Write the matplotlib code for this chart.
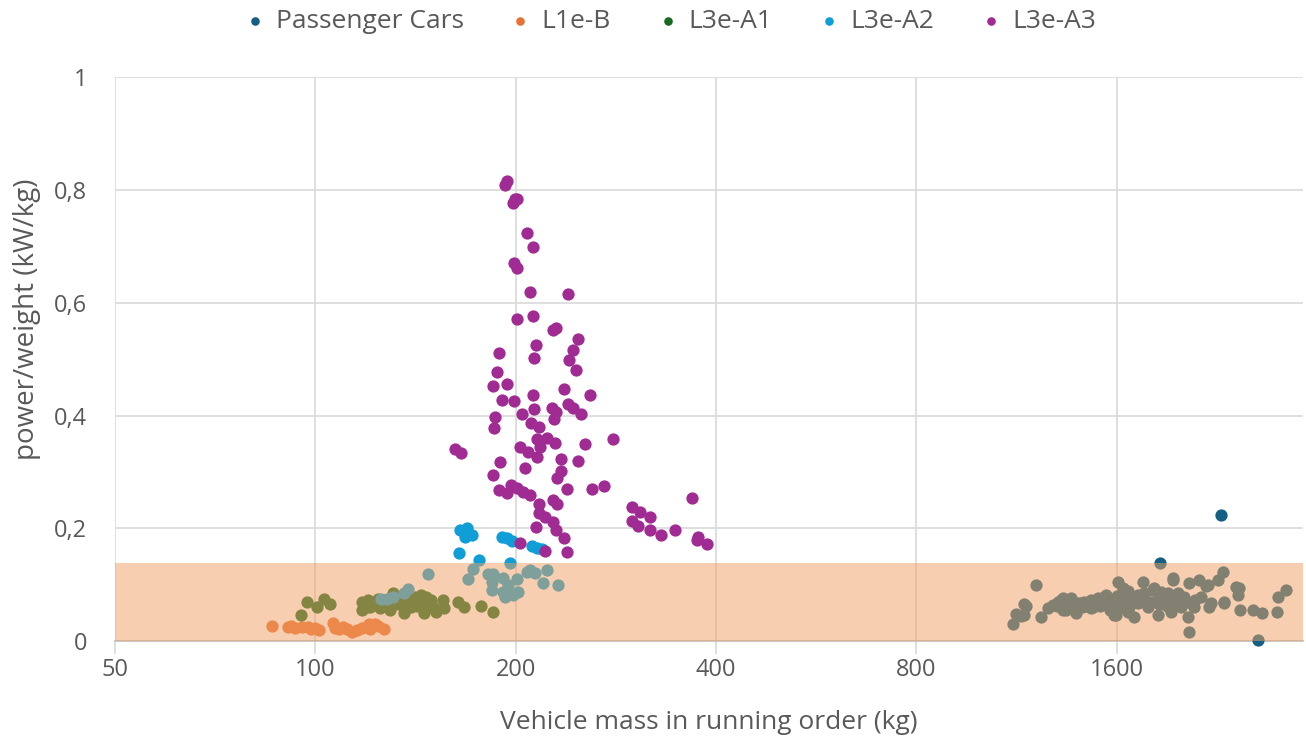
import numpy as np
import matplotlib.pyplot as plt
from matplotlib.ticker import FixedLocator, FuncFormatter

plt.rcParams['font.family'] = ['Open Sans', 'DejaVu Sans']

# vehicle mass (kg) and power-to-weight ratio (kW/kg) per category
cars_mass = [1116, 1128, 1147, 1159, 1159, 1167, 1209, 1229, 1260, 1282, 1300, 1304,
             1318, 1327, 1327, 1341, 1350, 1364, 1388, 1398, 1400, 1412, 1420, 1427,
             1440, 1447, 1462, 1462, 1472, 1480, 1498, 1498, 1510, 1529, 1529, 1540,
             1550, 1560, 1567, 1580, 1584, 1594, 1600, 1606, 1610, 1620, 1622, 1634,
             1639, 1650, 1651, 1660, 1662, 1668, 1680, 1697, 1700, 1720, 1721, 1751,
             1757, 1760, 1781, 1781, 1800, 1813, 1819, 1844, 1844, 1850, 1857, 1864,
             1883, 1900, 1909, 1929, 1929, 1943, 1943, 1950, 1977, 1997, 2000, 2018,
             2046, 2053, 2053, 2068, 2089, 2100, 2126, 2141, 2178, 2193, 2201, 2216,
             2270, 2294, 2310, 2318, 2318, 2417, 2434, 2442, 2451, 2565, 2610, 2645,
             2786, 2795, 2874]
cars_pw = [0.030, 0.048, 0.044, 0.046, 0.066, 0.062, 0.099, 0.043, 0.058, 0.064, 0.062, 0.069,
           0.073, 0.076, 0.055, 0.055, 0.065, 0.076, 0.050, 0.067, 0.058, 0.067, 0.060, 0.069,
           0.062, 0.069, 0.073, 0.058, 0.060, 0.065, 0.076, 0.073, 0.062, 0.078, 0.076, 0.082,
           0.070, 0.055, 0.067, 0.072, 0.046, 0.046, 0.080, 0.105, 0.058, 0.075, 0.060, 0.094,
           0.090, 0.068, 0.082, 0.088, 0.051, 0.060, 0.072, 0.043, 0.078, 0.082, 0.067, 0.105,
           0.085, 0.075, 0.067, 0.060, 0.070, 0.090, 0.094, 0.046, 0.073, 0.065, 0.138, 0.087,
           0.078, 0.062, 0.085, 0.051, 0.073, 0.112, 0.108, 0.070, 0.085, 0.060, 0.068, 0.078,
           0.043, 0.103, 0.016, 0.067, 0.060, 0.072, 0.108, 0.078, 0.098, 0.099, 0.060, 0.067,
           0.108, 0.223, 0.122, 0.069, 0.067, 0.096, 0.082, 0.094, 0.055, 0.055, 0.002, 0.050,
           0.051, 0.078, 0.090]

l1eb_mass = [86.2, 91.1, 92.0, 93.3, 95.6, 97.6, 98.5, 100.0, 101.4, 106.4, 107.2, 108.7,
             110.0, 111.7, 113.7, 115.7, 117.7, 119.7, 120.2, 121.0, 123.1, 124.1, 126.6]
l1eb_pw = [0.027, 0.025, 0.027, 0.023, 0.025, 0.025, 0.022, 0.023, 0.020, 0.032, 0.023, 0.021,
           0.025, 0.021, 0.016, 0.020, 0.023, 0.025, 0.030, 0.021, 0.030, 0.027, 0.021]

a1_mass = [95.3, 97.3, 100.7, 103.2, 105.3, 117.7, 117.7, 119.7, 120.0, 121.0, 122.3, 124.0,
           125.0, 126.6, 128.0, 129.7, 131.0, 133.0, 134.3, 135.7, 136.0, 137.0, 139.0, 140.0,
           141.4, 142.0, 143.9, 144.0, 145.4, 146.4, 147.0, 149.0, 150.0, 151.6, 155.3, 155.8,
           163.6, 167.0, 177.1, 184.7]
a1_pw = [0.046, 0.069, 0.060, 0.074, 0.066, 0.069, 0.055, 0.060, 0.073, 0.060, 0.069, 0.075,
         0.058, 0.067, 0.062, 0.055, 0.085, 0.065, 0.073, 0.050, 0.080, 0.068, 0.060, 0.073,
         0.078, 0.062, 0.073, 0.082, 0.050, 0.078, 0.065, 0.073, 0.060, 0.051, 0.073, 0.059,
         0.069, 0.060, 0.062, 0.051]

a2_mass = [164.7, 168.7, 167.6, 171.7, 190.5, 193.9, 197.2, 211.4, 215.1, 218.9, 164.1, 175.9,
           195.9, 125.3, 128.3, 131.0, 135.7, 138.0, 147.9, 169.3, 172.3, 181.5, 184.7, 184.0,
           184.0, 191.2, 192.5, 193.9, 197.9, 200.7, 201.4, 207.8, 209.9, 213.6, 222.7, 219.6,
           231.3, 194.6, 191.2]
a2_pw = [0.197, 0.200, 0.184, 0.188, 0.184, 0.183, 0.177, 0.168, 0.165, 0.163, 0.156, 0.144,
         0.138, 0.074, 0.074, 0.078, 0.085, 0.092, 0.119, 0.110, 0.128, 0.119, 0.119, 0.105,
         0.090, 0.112, 0.078, 0.087, 0.082, 0.110, 0.087, 0.122, 0.126, 0.121, 0.126, 0.103,
         0.099, 0.099, 0.087]

a3_mass = [193.9, 192.5, 200.7, 199.3, 197.9, 207.8, 212.1, 198.6, 200.7, 209.9, 239.5, 200.7,
           212.1, 227.4, 229.7, 214.4, 247.9, 212.9, 243.7, 240.3, 188.6, 246.2, 187.3, 184.7,
           193.9, 236.2, 258.5, 212.1, 190.5, 198.6, 239.5, 243.7, 250.5, 226.6, 229.7, 228.2,
           212.9, 186.0, 204.2, 185.3, 210.7, 216.6, 279.9, 254.0, 215.1, 222.7, 228.9, 202.8,
           208.5, 215.1, 217.3, 161.9, 165.3, 233.8, 247.9, 189.2, 206.3, 233.8, 230.5, 184.7,
           196.6, 200.7, 204.9, 209.9, 188.6, 193.9, 238.7, 260.3, 271.3, 368.1, 227.4, 230.5,
           216.6, 299.1, 307.5, 318.4, 216.6, 221.1, 227.4, 299.1, 305.4, 318.4, 347.0, 214.4,
           229.7, 236.2, 330.7, 375.8, 374.5, 387.7, 202.8, 221.1, 238.7]
a3_pw = [0.816, 0.809, 0.784, 0.784, 0.777, 0.723, 0.699, 0.670, 0.661, 0.619, 0.615, 0.571,
         0.576, 0.551, 0.555, 0.525, 0.535, 0.502, 0.516, 0.498, 0.511, 0.480, 0.477, 0.452,
         0.456, 0.447, 0.436, 0.436, 0.427, 0.426, 0.420, 0.413, 0.402, 0.413, 0.406, 0.394,
         0.411, 0.397, 0.402, 0.378, 0.387, 0.379, 0.358, 0.349, 0.358, 0.360, 0.351, 0.344,
         0.335, 0.326, 0.344, 0.340, 0.333, 0.323, 0.319, 0.317, 0.307, 0.301, 0.289, 0.294,
         0.277, 0.271, 0.264, 0.259, 0.268, 0.262, 0.270, 0.270, 0.275, 0.254, 0.250, 0.243,
         0.243, 0.238, 0.229, 0.220, 0.227, 0.220, 0.211, 0.213, 0.204, 0.197, 0.197, 0.202,
         0.197, 0.183, 0.188, 0.184, 0.179, 0.172, 0.174, 0.160, 0.158]

series = [
    ('Passenger Cars', cars_mass, cars_pw, '#156082'),
    ('L1e-B', l1eb_mass, l1eb_pw, '#E97132'),
    ('L3e-A1', a1_mass, a1_pw, '#196B24'),
    ('L3e-A2', a2_mass, a2_pw, '#0F9ED5'),
    ('L3e-A3', a3_mass, a3_pw, '#A02B93'),
]

band_top = 0.138
x_ticks = [50, 100, 200, 400, 800, 1600]
y_ticks = [0, 0.2, 0.4, 0.6, 0.8, 1.0]
text_col = '#595959'
grid_col = '#D9D9D9'

fig = plt.figure(figsize=(13.06, 7.42), dpi=100)
ax = fig.add_axes([0.088, 0.136, 0.910, 0.760])

for name, m, p, c in series:
    ax.scatter(m, p, s=78, color=c, linewidths=0, label=name, zorder=3, clip_on=False)

# translucent band over the low power/weight region
ax.axhspan(0, band_top, color='#F0A062', alpha=0.5, linewidth=0, zorder=4)

ax.set_xscale('log', base=2)
ax.set_xlim(50, 3050)
ax.set_ylim(0, 1)
ax.xaxis.set_major_locator(FixedLocator(x_ticks))
ax.xaxis.set_minor_locator(FixedLocator([]))
ax.xaxis.set_major_formatter(FuncFormatter(lambda v, pos: f'{v:g}'))
ax.yaxis.set_major_locator(FixedLocator(y_ticks))
ax.yaxis.set_major_formatter(FuncFormatter(lambda v, pos: f'{v:g}'.replace('.', ',')))

ax.grid(True, color=grid_col, linewidth=1.2, zorder=0)
ax.set_axisbelow(True)
for side in ['top', 'right', 'left']:
    ax.spines[side].set_visible(False)
ax.spines['bottom'].set_color('#BFBFBF')
ax.spines['bottom'].set_linewidth(1.2)
ax.tick_params(axis='x', colors=text_col, labelsize=17, length=9, width=1.2,
               color=grid_col, pad=3)
ax.tick_params(axis='y', colors=text_col, labelsize=17, length=0, pad=20)

ax.set_xlabel('Vehicle mass in running order (kg)', fontsize=19, color=text_col, labelpad=20)
ax.set_ylabel('power/weight (kW/kg)', fontsize=20, color=text_col)
ax.yaxis.set_label_coords(-0.062, 0.57)

fig.legend(loc='upper center', bbox_to_anchor=(0.513, 1.02), ncol=5, frameon=False,
           fontsize=19, labelcolor=text_col, markerscale=0.7, handlelength=0.8,
           handletextpad=0.4, columnspacing=1.75)

fig.savefig('out.png', dpi=100)
